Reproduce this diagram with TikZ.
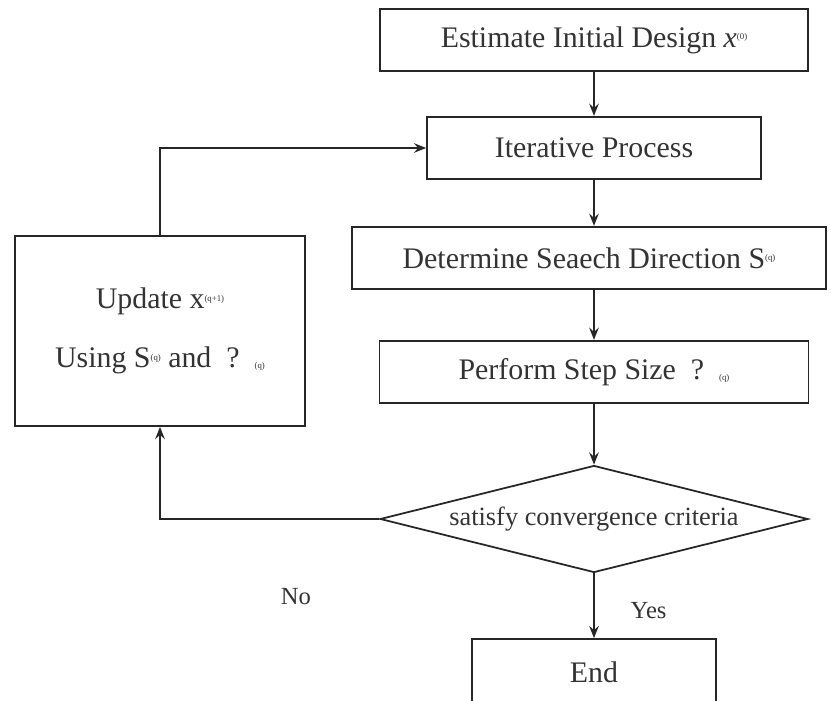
\documentclass[tikz,border=0pt]{standalone}
\usepackage{fontspec}
\setmainfont{Liberation Serif}
\usetikzlibrary{shapes.geometric,arrows.meta}
\newcommand{\sups}[1]{\raisebox{0.55ex}{\fontsize{5}{5}\selectfont #1}}
\newcommand{\subs}[1]{\raisebox{-0.1ex}{\fontsize{5}{5}\selectfont #1}}
\tikzset{
  flowbox/.style={draw=black!85, line width=1pt, inner sep=0pt, minimum height=1.25cm,
    text=black!80, font=\fontsize{17}{20}\selectfont},
  decision/.style={draw=black!85, diamond, line width=1pt, inner sep=0pt, shape aspect=4,
    text=black!80, font=\fontsize{15}{17}\selectfont},
  flowlabel/.style={text=black!80, font=\fontsize{14}{16}\selectfont}
}
\begin{document}
\begin{tikzpicture}[x=0.02cm,y=-0.02cm,>={Stealth[length=7pt,width=5.5pt,inset=2.5pt]},
    line width=1pt, draw=black!85]
  \useasboundingbox (0,0) rectangle (831,700);
  \clip (0,0) rectangle (831,700);
  % main column
  \node[flowbox, minimum width=8.56cm] (init) at (594,40) {Estimate Initial Design \textit{x}\sups{(0)}};
  \node[flowbox, minimum width=6.68cm] (iter) at (594,148) {Iterative Process};
  \node[flowbox, minimum width=9.48cm] (direc) at (589,258) {Determine Seaech Direction S\sups{(q)}};
  \node[flowbox, minimum width=8.58cm] (stepsz) at (594,372) {Perform Step Size \ ?\hspace{0.3cm}\subs{(q)}};
  \node[decision, minimum width=8.56cm, minimum height=2.14cm] (conv) at (594,519) {satisfy convergence criteria};
  \node[flowbox, minimum width=4.88cm, minimum height=1.32cm] (endbox) at (594,672) {End};
  % update box on the left
  \node[flowbox, minimum width=5.8cm, minimum height=3.8cm, align=center,
    font=\fontsize{17}{33.5}\selectfont] (update) at (160,331)
    {Update x\sups{(q+1)}\\Using S\sups{(q)} and \ ?\hspace{0.3cm}\subs{(q)}};
  % connectors
  \draw[->] (init) -- (iter);
  \draw[->] (iter.south) -- (iter.south |- direc.north);
  \draw[->] (stepsz.north |- direc.south) -- (stepsz.north);
  \draw[->] (stepsz) -- (conv);
  \draw[->] (conv) -- node[flowlabel, right, xshift=0.6cm, yshift=-0.1cm] {Yes} (endbox);
  \draw[->] (conv.west) -| node[flowlabel, pos=0.19, below=1.25cm] {No} (update.south);
  \draw[->] (update.north) |- (iter.west);
\end{tikzpicture}
\end{document}
